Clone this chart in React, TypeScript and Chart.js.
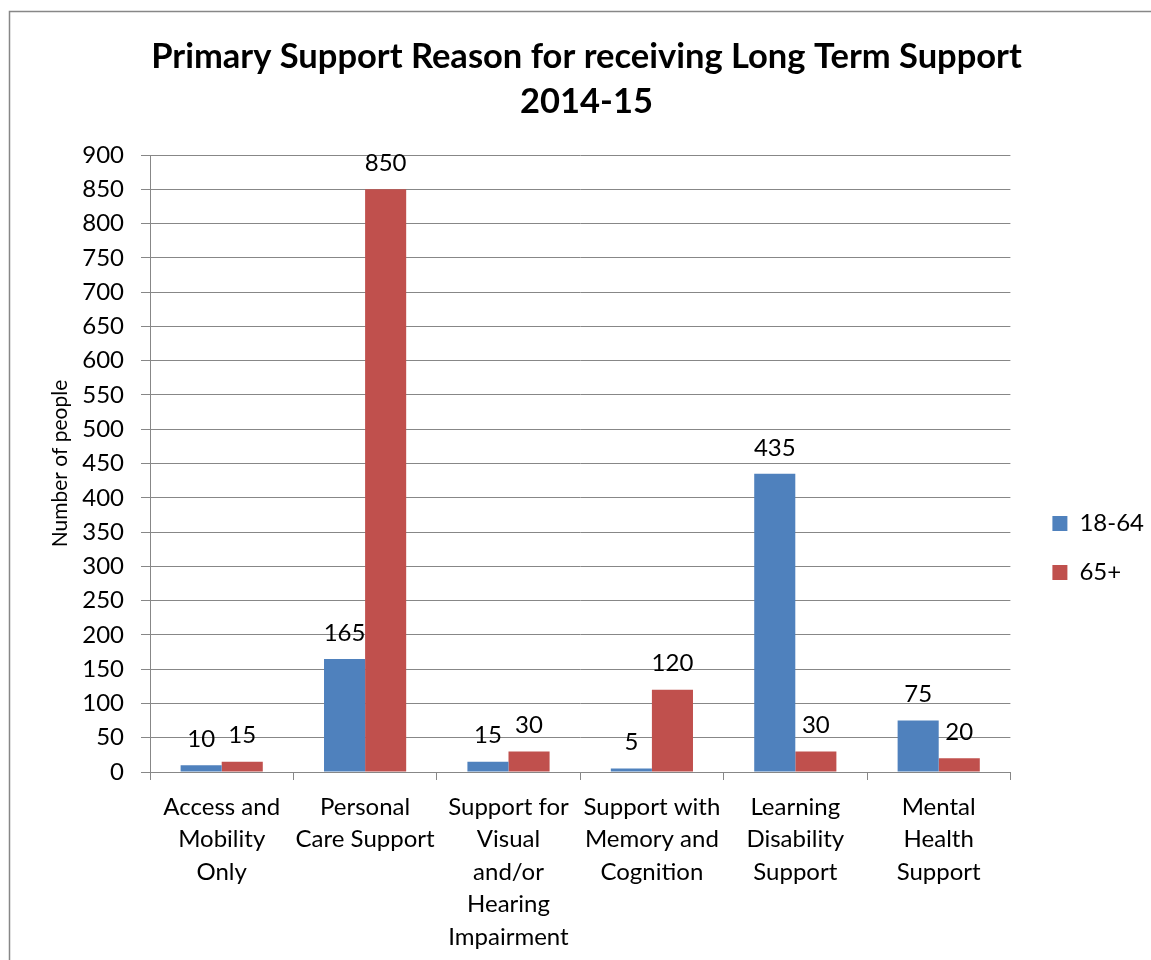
import React, { useEffect, useRef } from "react";
import { Chart, registerables } from "chart.js";

Chart.register(...registerables);

// ---- data ----
const titleLines = ["Primary Support Reason for receiving Long Term Support", "2014-15"];
const categories: string[][] = [
  ["Access and", "Mobility", "Only"],
  ["Personal", "Care Support"],
  ["Support for", "Visual", "and/or", "Hearing", "Impairment"],
  ["Support with", "Memory and", "Cognition"],
  ["Learning", "Disability", "Support"],
  ["Mental", "Health", "Support"],
];
const seriesNames = ["18-64", "65+"];
const values18to64 = [10, 165, 15, 5, 435, 75];
const values65plus = [15, 850, 30, 120, 30, 20];
const yAxisTitle = "Number of people";
const yMin = 0;
const yMax = 900;
const yStep = 50;

// ---- style ----
const FONT = "Lato";
const BLUE = "#4F81BD";
const RED = "#C0504D";
const GRID = "#878787";
const W = 1156;
const H = 1096;
const PAD_LEFT = 19;

const borderPlugin = {
  id: "outerBorder",
  beforeDraw(chart: any) {
    const ctx = chart.ctx;
    ctx.save();
    ctx.strokeStyle = GRID;
    ctx.lineWidth = 1.5;
    ctx.beginPath();
    ctx.moveTo(9.5, H + 10);
    ctx.lineTo(9.5, 11.5);
    ctx.lineTo(W + 10, 11.5);
    ctx.stroke();
    ctx.restore();
  },
};

const valueLabelPlugin = {
  id: "valueLabels",
  afterDatasetsDraw(chart: any) {
    const ctx = chart.ctx;
    ctx.save();
    ctx.font = `24px ${FONT}`;
    ctx.fillStyle = "#000";
    ctx.textAlign = "center";
    ctx.textBaseline = "middle";
    chart.data.datasets.forEach((ds: any, i: number) => {
      const meta = chart.getDatasetMeta(i);
      meta.data.forEach((bar: any, j: number) => {
        ctx.fillText(String(ds.data[j]), bar.x, bar.y - 26);
      });
    });
    ctx.restore();
  },
};

export default function App() {
  const ref = useRef<HTMLCanvasElement | null>(null);

  useEffect(() => {
    if (!ref.current) return;
    const chart = new Chart(ref.current, {
      type: "bar",
      data: {
        labels: categories,
        datasets: [
          {
            label: seriesNames[0],
            data: values18to64,
            backgroundColor: BLUE,
            borderWidth: 0,
            categoryPercentage: 0.573,
            barPercentage: 1,
          },
          {
            label: seriesNames[1],
            data: values65plus,
            backgroundColor: RED,
            borderWidth: 0,
            categoryPercentage: 0.573,
            barPercentage: 1,
          },
        ],
      },
      options: {
        animation: false,
        responsive: false,
        devicePixelRatio: 1,
        layout: { padding: { left: PAD_LEFT, right: 2, top: 0, bottom: 0 } },
        plugins: {
          title: {
            display: true,
            text: titleLines,
            color: "#000",
            font: { family: FONT, size: 34.5, weight: "bold", lineHeight: 45 / 34.5 },
            padding: { top: 34.5, bottom: 30.5 },
          },
          legend: {
            position: "right",
            align: "center",
            labels: {
              boxWidth: 15,
              boxHeight: 15,
              padding: 25,
              color: "#000",
              font: { family: FONT, size: 24 },
            },
          },
          tooltip: { enabled: false },
        },
        scales: {
          x: {
            type: "category",
            offset: true,
            grid: {
              offset: true,
              drawOnChartArea: false,
              drawTicks: true,
              tickLength: 8,
              color: GRID,
            },
            border: { display: true, color: GRID },
            ticks: {
              color: "#000",
              font: { family: FONT, size: 24, lineHeight: 32.5 / 24 },
              padding: 11,
              maxRotation: 0,
              autoSkip: false,
            },
            afterFit: (s: any) => {
              s.height = 324;
            },
          },
          y: {
            type: "linear",
            min: yMin,
            max: yMax,
            grid: { color: GRID, tickLength: 9 },
            border: { display: true, color: GRID },
            ticks: {
              stepSize: yStep,
              color: "#000",
              font: { family: FONT, size: 24 },
              padding: 17,
            },
            title: {
              display: true,
              text: yAxisTitle,
              color: "#000",
              font: { family: FONT, size: 21 },
              padding: { top: 29, bottom: 0 },
            },
            afterFit: (s: any) => {
              s.width = 150 - PAD_LEFT;
            },
          },
          gap: {
            type: "linear",
            position: "right",
            display: true,
            grid: { display: false },
            border: { display: false },
            ticks: { display: false },
            afterFit: (s: any) => {
              s.width = 17;
            },
          },
        },
      },
      plugins: [borderPlugin, valueLabelPlugin],
    } as any);
    return () => chart.destroy();
  }, []);

  return (
    <div
      style={{
        position: "fixed",
        left: 0,
        top: 0,
        width: 1151,
        height: 960,
        overflow: "hidden",
        background: "#fff",
      }}
    >
      <canvas ref={ref} width={W} height={H} style={{ width: W, height: H, display: "block" }} />
    </div>
  );
}
